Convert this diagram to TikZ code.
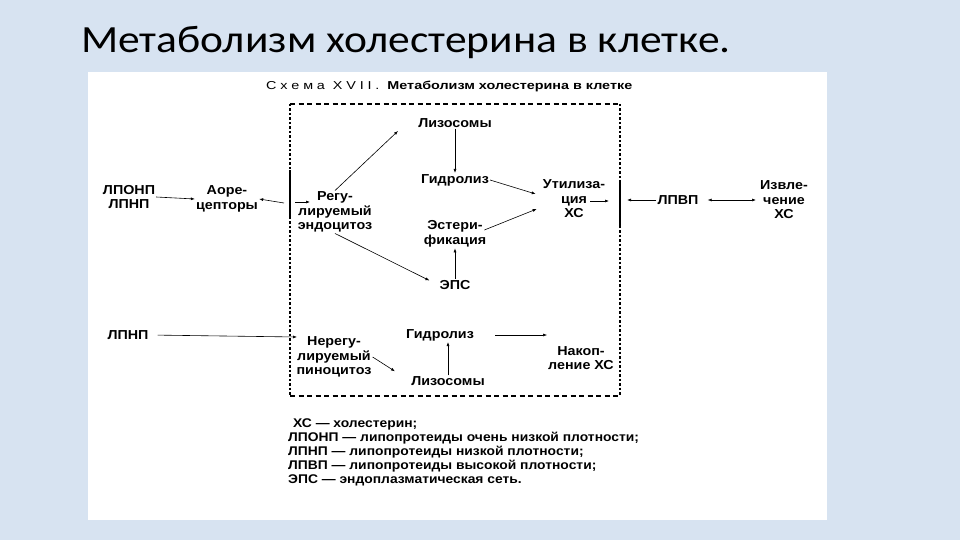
\documentclass[tikz,border=0pt]{standalone}
\usepackage{fontspec}
\setmainfont{Liberation Sans}
\newfontfamily\titlefont[FakeStretch=1.13]{Carlito}
\newfontfamily\diagfont[FakeStretch=1.1]{Liberation Sans}
\newfontfamily\headfont[FakeStretch=1.25]{Liberation Sans}
\usetikzlibrary{arrows.meta,calc}
\definecolor{slidebg}{RGB}{215,227,241}
\begin{document}
\begin{tikzpicture}[x=1pt,y=-1pt,
 lbl/.style={font=\diagfont\bfseries\fontsize{13}{14.5}\selectfont, align=center, inner sep=1pt},
 arr/.style={-{Latex[length=4pt,width=3pt]}, line width=0.6pt},
 darr/.style={{Latex[length=4pt,width=3pt]}-{Latex[length=4pt,width=3pt]}, line width=0.6pt},
 memb/.style={line width=2.2pt},
 wallv/.style={line width=1.2pt, dash pattern=on 2.5pt off 2pt},
 wallh/.style={line width=1.1pt, dash pattern=on 5pt off 3.5pt},
 ]
\fill[slidebg] (0,0) rectangle (960,540);
\useasboundingbox (0,0) rectangle (960,540);
\fill[white] (88,72) rectangle (827,520);
\node[anchor=base west, font=\titlefont\fontsize{38.5}{40}\selectfont, inner sep=0] (title) at (81,53) {Метаболизм холестерина в клетке.};
\node[anchor=west, font=\headfont\fontsize{11.5}{12}\selectfont, inner sep=0] (head) at (266,86) {С\,\,х\,\,е\,\,м\,\,а\ \ X\,\,V\,\,I\,\,I\,\,.\ \ \bfseries Метаболизм холестерина в клетке};

% cell wall
\draw[wallh] (290,104) -- (620,104);
\draw[wallh] (290,396) -- (620,396);
\draw[wallv] (290,104) -- (290,396);
\draw[wallv] (620,104) -- (620,396);
\draw[memb] (290,170) -- (290,219);
\draw[memb] (620,180) -- (620,227);

% nodes
\node[lbl] (lponp) at (129,197) {ЛПОНП\\ЛПНП};
\node[lbl] (apor) at (227,199) {Аоре-\\цепторы};
\node[lbl] (reg) at (335,212) {Регу-\\лируемый\\эндоцитоз};
\node[lbl] (lys1) at (455,123) {Лизосомы};
\node[lbl] (hyd1) at (455,180) {Гидролиз};
\node[lbl] (util) at (574,199) {Утилиза-\\ция\\ХС};
\node[lbl] (ester) at (455,234) {Эстери-\\фикация};
\node[lbl] (eps) at (455,285) {ЭПС};
\node[lbl] (lpvp) at (678,200) {ЛПВП};
\node[lbl] (izv) at (784,200) {Извле-\\чение\\ХС};
\node[lbl] (lpnp2) at (128,335) {ЛПНП};
\node[lbl] (nereg) at (334,357) {Нерегу-\\лируемый\\пиноцитоз};
\node[lbl] (hyd2) at (440,335) {Гидролиз};
\node[lbl] (lys2) at (448,381) {Лизосомы};
\node[lbl] (nak) at (581,358) {Накоп-\\ление ХС};

\node[anchor=north west, align=left, font=\diagfont\bfseries\fontsize{12.6}{14}\selectfont, inner sep=0] (legend) at (288,418)
 {\hspace{5pt}ХС — холестерин;\\
  ЛПОНП — липопротеиды очень низкой плотности;\\
  ЛПНП — липопротеиды низкой плотности;\\
  ЛПВП — липопротеиды высокой плотности;\\
  ЭПС — эндоплазматическая сеть.};

% membrane points
\coordinate (mL1) at (284,203);
\coordinate (mL2) at (295,202);
\coordinate (regin) at (310,202);
\coordinate (mR1) at (609,201);
\coordinate (mR2) at (627,200);
\coordinate (utilout) at (590,201);
\coordinate (nin) at (297,337);
\coordinate (lysin) at (398,131);

% connectors
\draw[arr] (lponp.east) -- (apor.west);
\draw[arr] (mL1) -- (apor.east);
\draw[arr] (mL2) -- (regin);
\draw[arr] (reg.north) -- (lysin);
\draw[arr] (lys1.south) -- (hyd1.north);
\draw[arr] (hyd1.east) -- ($(util.west)+(-6,-5)$);
\draw[arr] ($(ester.east)+(-3,-4)$) -- ($(util.west)+(-5,10)$);
\draw[arr] (eps.north) -- (ester.south);
\draw[arr, shorten >=10pt] (reg.south) -- (eps.west);
\draw[arr] (utilout) -- (mR1);
\draw[arr] (lpvp.west) -- (mR2);
\draw[darr, shorten <=8pt, shorten >=3pt] (lpvp.east) -- (izv.west);
\draw[arr, shorten <=8pt] (lpnp2.east) -- (nin);
\draw[arr, shorten >=18pt] (nereg.east) -- (lys2.west);
\draw[arr] (lys2.north) -- (lys2.north |- hyd2.south);
\draw[arr, shorten <=20pt] (hyd2.east) -- (hyd2.east -| nak.west);
\end{tikzpicture}
\end{document}
